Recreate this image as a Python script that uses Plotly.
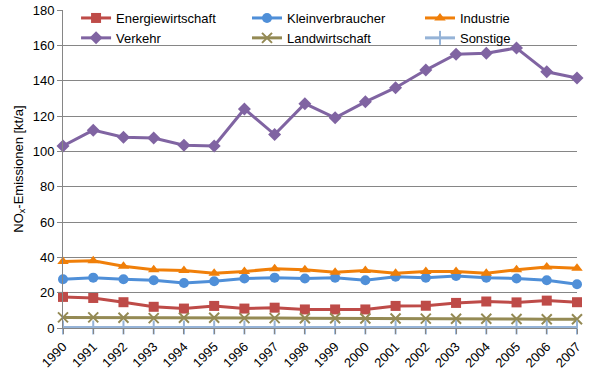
import plotly.graph_objects as go

years = list(range(1990, 2008))
tick_labels = [str(y) for y in years]

energiewirtschaft = [17.6, 17.0, 14.6, 12.0, 11.0, 12.5, 11.0, 11.5, 10.5, 10.5, 10.5, 12.5, 12.6, 14.2, 15.0, 14.5, 15.5, 14.6]
kleinverbraucher = [27.6, 28.5, 27.6, 27.0, 25.5, 26.5, 28.0, 28.5, 28.0, 28.5, 27.0, 29.0, 28.5, 29.5, 28.5, 28.0, 27.0, 24.8]
industrie = [37.6, 38.0, 35.0, 33.0, 32.5, 31.0, 32.0, 33.5, 33.0, 31.5, 32.5, 31.0, 32.0, 32.0, 31.0, 33.0, 34.5, 33.8]
verkehr = [103.0, 112.0, 108.0, 107.5, 103.5, 103.0, 124.0, 109.5, 127.0, 119.0, 128.0, 136.0, 146.0, 155.0, 155.5, 158.5, 145.0, 141.5]
landwirtschaft = [6.0, 6.0, 5.8, 5.6, 5.8, 5.8, 5.6, 5.6, 5.5, 5.5, 5.4, 5.4, 5.3, 5.2, 5.2, 5.1, 5.0, 5.0]
sonstige = [0.3] * 18

# (name, values, colour, symbol, legend column)
series = [
    ("Energiewirtschaft", energiewirtschaft, "#BE4B48", "square", "legend"),
    ("Kleinverbraucher", kleinverbraucher, "#4F8FD8", "circle", "legend2"),
    ("Industrie", industrie, "#F07F09", "triangle-up", "legend3"),
    ("Verkehr", verkehr, "#8064A2", "diamond", "legend"),
    ("Landwirtschaft", landwirtschaft, "#948A54", "x-thin-open", "legend2"),
    ("Sonstige", sonstige, "#95B3D7", "line-ns-open", "legend3"),
]

fig = go.Figure()
for name, vals, color, sym, leg in series:
    thin = sym in ("x-thin-open", "line-ns-open")
    fig.add_trace(go.Scatter(
        x=years, y=vals, name=name, mode="lines+markers", legend=leg,
        line=dict(color=color, width=3),
        marker=dict(symbol=sym, size=10, color=color,
                    line=dict(color=color, width=2 if thin else 0)),
        cliponaxis=False,
    ))

leg_common = dict(
    orientation="v", y=1.022, yanchor="top", xanchor="left",
    font=dict(size=13), bgcolor="rgba(255,255,255,0)",
    tracegroupgap=0, itemwidth=30,
)

fig.update_layout(
    width=600, height=376,
    margin=dict(l=63, r=23, t=10, b=48, autoexpand=False),
    paper_bgcolor="white", plot_bgcolor="white",
    font=dict(family="Liberation Sans, Arial, sans-serif", size=13, color="#000000"),
    showlegend=True,
    legend=dict(x=0.0254, **leg_common),
    legend2=dict(x=0.358, **leg_common),
    legend3=dict(x=0.6945, **leg_common),
    xaxis=dict(
        range=[1990, 2007], tickmode="array", tickvals=years, ticktext=tick_labels,
        tickangle=-45, showgrid=False, showline=True, linecolor="#868686", linewidth=1,
        ticks="outside", ticklen=5, tickcolor="#868686", zeroline=False,
        tickfont=dict(size=13), automargin=False,
    ),
    yaxis=dict(
        range=[0, 180], tickvals=list(range(0, 181, 20)),
        showgrid=True, gridcolor="#868686", gridwidth=1,
        showline=True, linecolor="#868686", linewidth=1,
        ticks="outside", ticklen=5, tickcolor="#868686", zeroline=False,
        title=dict(text="NO<sub>x</sub>-Emissionen [kt/a]", font=dict(size=13), standoff=6),
        tickfont=dict(size=13), automargin=False,
    ),
)

fig.write_html("out.html", config={"displayModeBar": False},
               post_script="document.body.style.margin='0';")
